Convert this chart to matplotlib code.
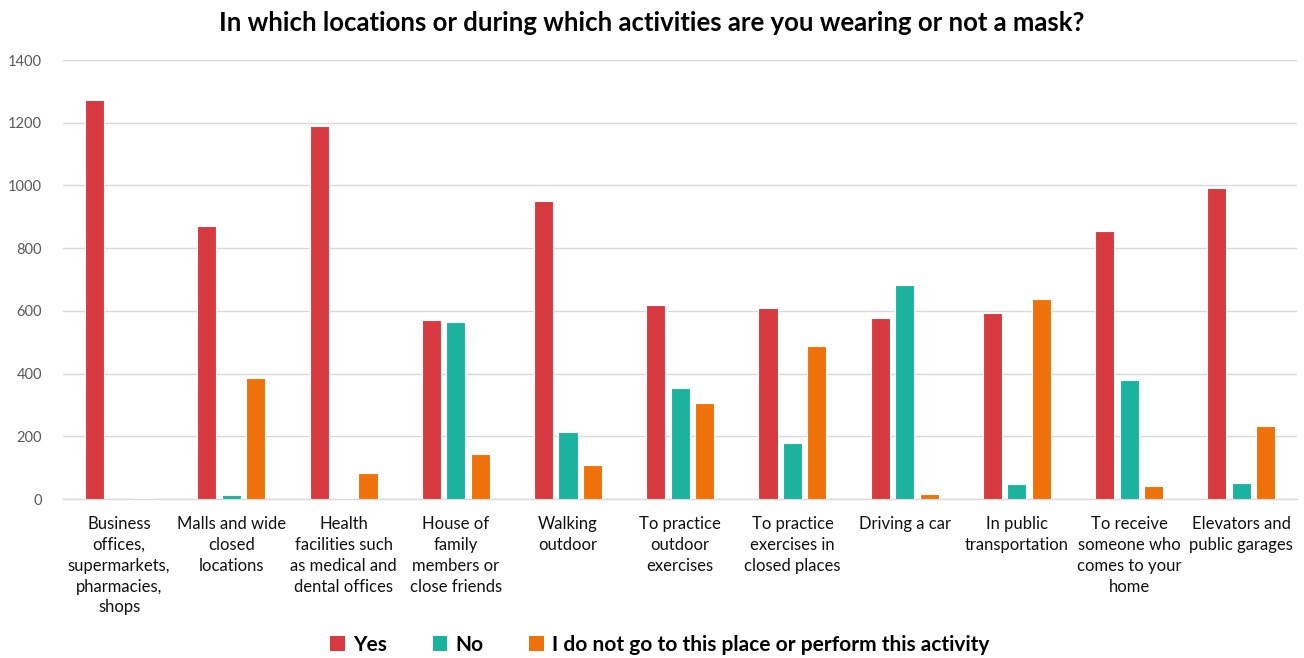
import matplotlib
matplotlib.use("Agg")
import matplotlib.pyplot as plt
import numpy as np

plt.rcParams['font.family'] = ['Lato', 'DejaVu Sans']

categories = [
    "Business\noffices,\nsupermarkets,\npharmacies,\nshops",
    "Malls and wide\nclosed\nlocations",
    "Health\nfacilities such\nas medical and\ndental offices",
    "House of\nfamily\nmembers or\nclose friends",
    "Walking\noutdoor",
    "To practice\noutdoor\nexercises",
    "To practice\nexercises in\nclosed places",
    "Driving a car",
    "In public\ntransportation",
    "To receive\nsomeone who\ncomes to your\nhome",
    "Elevators and\npublic garages",
]
yes = [1272, 870, 1189, 571, 950, 619, 609, 577, 593, 855, 992]
no = [1, 13, 3, 564, 214, 354, 179, 682, 48, 379, 51]
not_go = [3, 386, 83, 143, 108, 306, 488, 16, 638, 41, 233]
series_names = ["Yes", "No", "I do not go to this place or perform this activity"]
colors = ["#D63A40", "#1BB3A0", "#EE7209"]
yticks = [0, 200, 400, 600, 800, 1000, 1200, 1400]

fig = plt.figure(figsize=(13.04, 6.58), dpi=100)
ax = fig.add_axes([0.0483, 0.2416, 0.9467, 0.6672])

x = np.arange(len(categories))
w = 0.17
off = 0.218
for i, (vals, name, c) in enumerate(zip([yes, no, not_go], series_names, colors)):
    ax.bar(x + (i - 1) * off, vals, width=w, color=c, edgecolor="white",
           linewidth=0.8, label=name, zorder=3)

ax.set_xlim(-0.5, len(categories) - 0.5)
ax.set_ylim(0, 1400)
ax.set_yticks(yticks)
ax.set_yticklabels([str(t) for t in yticks], fontsize=10.5, color="#595959")
ax.grid(axis="y", color="#D9D9D9", linewidth=1, zorder=0)
ax.set_xticks(x)
ax.set_xticklabels(categories, fontsize=12, color="#111111", linespacing=1.38)
ax.tick_params(axis="both", length=0)
ax.tick_params(axis="x", pad=12)
ax.tick_params(axis="y", pad=15)
for s in ["top", "right", "left"]:
    ax.spines[s].set_visible(False)
ax.spines["bottom"].set_color("#D9D9D9")
ax.spines["bottom"].set_linewidth(1)

fig.text(0.5, 0.965, "In which locations or during which activities are you wearing or not a mask?",
         ha="center", va="center", fontsize=18.5, fontweight="bold", color="black")

leg = fig.legend(loc="center", bbox_to_anchor=(0.506, 0.02), ncol=3, frameon=False,
                 prop={"size": 15, "weight": "bold"}, handlelength=0.7, handleheight=0.7,
                 handletextpad=0.4, columnspacing=2.2)
for h in leg.legend_handles:
    h.set_edgecolor("none")

fig.savefig("out.png", dpi=100)
